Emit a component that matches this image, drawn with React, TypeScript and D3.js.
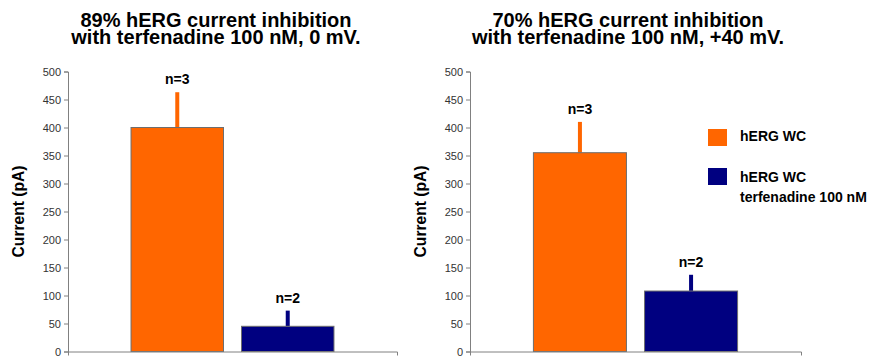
import React, { useEffect, useRef } from "react";
import { scaleLinear, scaleBand, axisLeft, axisBottom, select, range } from "d3";

// data
const series = ["hERG WC", "hERG WC terfenadine 100 nM"];
const panelNames = ["0 mV", "+40 mV"];
const titleLines = [
  ["89% hERG current inhibition", "with terfenadine 100 nM, 0 mV."],
  ["70% hERG current inhibition", "with terfenadine 100 nM, +40 mV."],
];
const means0mV = [400, 45];
const errors0mV = [63, 28];
const means40mV = [355, 108];
const errors40mV = [55, 29];
const nLabels = ["n=3", "n=2"];
const yTicks = range(0, 501, 50);
const colors = ["#FF6600", "#000080"];

const FONT = "'Liberation Sans', Arial, sans-serif";

const W = 874;
const H = 356;
const top = 71.5;
const bottom = 351.5;
const panelBox = [
  { left: 68, right: 397, titleX: 216, labelX: 24 },
  { left: 470, right: 801, titleX: 628, labelX: 426 },
];

const YAxis = ({ scale, x }) => {
  const ref = useRef(null);
  useEffect(() => {
    const g = select(ref.current);
    g.call(
      axisLeft(scale).tickValues(yTicks).tickSize(4).tickSizeOuter(4).tickPadding(3)
    );
    g.selectAll("path").attr("stroke", "#808080");
    g.selectAll("line").attr("stroke", "#808080");
    g.selectAll("text")
      .attr("fill", "#333")
      .style("font-size", "11px")
      .style("font-family", FONT);
  }, [scale]);
  return <g ref={ref} transform={`translate(${x},0)`} />;
};

const XAxis = ({ scale, y }) => {
  const ref = useRef(null);
  useEffect(() => {
    const g = select(ref.current);
    g.call(axisBottom(scale).tickSize(0).tickSizeOuter(4).tickFormat(() => ""));
    g.selectAll("path").attr("stroke", "#808080");
  }, [scale]);
  return <g ref={ref} transform={`translate(0,${y})`} />;
};

const Panel = ({ idx, means, errors }) => {
  const box = panelBox[idx];
  const y = scaleLinear().domain([0, 500]).range([bottom, top]);
  const outer = scaleBand()
    .domain([panelNames[idx]])
    .range([box.left, box.right])
    .padding(0.237);
  const inner = scaleBand()
    .domain(series)
    .range([0, outer.bandwidth()])
    .paddingInner(0.163)
    .paddingOuter(0);
  const x0 = outer(panelNames[idx]);

  return (
    <g>
      <text
        x={box.titleX}
        textAnchor="middle"
        fontFamily={FONT}
        fontWeight="bold"
        fontSize={20}
      >
        <tspan x={box.titleX} y={26.5}>
          {titleLines[idx][0]}
        </tspan>
        <tspan x={box.titleX} y={44}>
          {titleLines[idx][1]}
        </tspan>
      </text>
      <text
        transform={`translate(${box.labelX},${(top + bottom) / 2}) rotate(-90)`}
        textAnchor="middle"
        fontFamily={FONT}
        fontWeight="bold"
        fontSize={15.6}
      >
        Current (pA)
      </text>
      {series.map((s, i) => {
        const bx = x0 + inner(s);
        const cx = bx + inner.bandwidth() / 2;
        return (
          <g key={s}>
            <line
              x1={cx}
              x2={cx}
              y1={y(means[i])}
              y2={y(means[i] + errors[i])}
              stroke={colors[i]}
              strokeWidth={4}
            />
            <rect
              x={bx}
              y={y(means[i])}
              width={inner.bandwidth()}
              height={y(0) - y(means[i])}
              fill={colors[i]}
              stroke="#6e6e6e"
              strokeWidth={1}
            />
            <text
              x={cx}
              y={y(means[i] + errors[i]) - 8}
              textAnchor="middle"
              fontFamily={FONT}
              fontWeight="bold"
              fontSize={14}
            >
              {nLabels[i]}
            </text>
          </g>
        );
      })}
      <XAxis scale={outer} y={y(0)} />
      <YAxis scale={y} x={box.left} />
    </g>
  );
};

const Legend = () => {
  const lx = 708;
  const ly = [129, 168];
  return (
    <g fontFamily={FONT} fontWeight="bold" fontSize={14}>
      {series.map((s, i) => (
        <g key={s}>
          <rect x={lx} y={ly[i]} width={19} height={17} fill={colors[i]} />
          {i === 0 ? (
            <text x={lx + 32} y={ly[i] + 12}>
              {s}
            </text>
          ) : (
            <text>
              <tspan x={lx + 32} y={ly[i] + 14}>
                hERG WC
              </tspan>
              <tspan x={lx + 32} y={ly[i] + 34}>
                terfenadine 100 nM
              </tspan>
            </text>
          )}
        </g>
      ))}
    </g>
  );
};

export default function App() {
  return (
    <svg
      width={W}
      height={H}
      style={{ position: "absolute", left: 0, top: 0, background: "#fff" }}
    >
      <rect width={W} height={H} fill="#fff" />
      <Panel idx={0} means={means0mV} errors={errors0mV} />
      <Panel idx={1} means={means40mV} errors={errors40mV} />
      <Legend />
    </svg>
  );
}
